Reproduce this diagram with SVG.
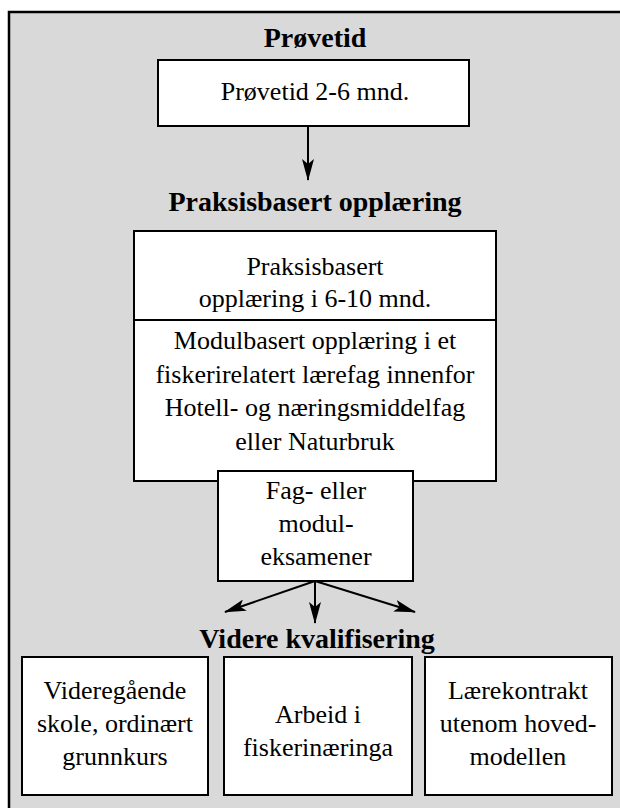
<svg xmlns="http://www.w3.org/2000/svg" width="620" height="808" viewBox="0 0 620 808">
<style>
  .frame { fill: #d9d9d9; stroke: #000; stroke-width: 2.5; }
  .box { fill: #fff; stroke: #000; stroke-width: 2; }
  .t { font-family: "Liberation Serif", "Times New Roman", serif; font-size: 26px; fill: #000; text-anchor: middle; }
  .h { font-family: "Liberation Serif", "Times New Roman", serif; font-size: 28px; font-weight: bold; fill: #000; text-anchor: middle; }
  .conn { stroke: #000; stroke-width: 2; fill: none; }
</style>
<defs>
  <marker id="ah" markerUnits="userSpaceOnUse" markerWidth="22" markerHeight="12" refX="21" refY="6" orient="auto">
    <path d="M0,0 L22,6 L0,12 L5,6 z" fill="#000"/>
  </marker>
</defs>
<rect class="frame" x="9" y="12" width="620" height="810"/>

<g id="title-provetid"><text class="h" x="315" y="47">Prøvetid</text></g>
<g id="node-provetid">
  <rect class="box" x="158" y="60" width="311" height="66"/>
  <text class="t" x="315" y="100">Prøvetid 2-6 mnd.</text>
</g>

<g id="title-praksis"><text class="h" x="315" y="211">Praksisbasert opplæring</text></g>
<g id="node-praksis">
  <rect class="box" x="134" y="231" width="362" height="250"/>
  <line x1="134" y1="320" x2="496" y2="320" stroke="#000" stroke-width="2"/>
  <text class="t" x="315" y="275">Praksisbasert</text>
  <text class="t" x="315" y="307">opplæring i 6-10 mnd.</text>
  <text class="t" x="315" y="349">Modulbasert opplæring i et</text>
  <text class="t" x="315" y="383">fiskerirelatert lærefag innenfor</text>
  <text class="t" x="315" y="416">Hotell- og næringsmiddelfag</text>
  <text class="t" x="315" y="450">eller Naturbruk</text>
</g>
<g id="node-fag">
  <rect class="box" x="218" y="471" width="195" height="110"/>
  <text class="t" x="316" y="499">Fag- eller</text>
  <text class="t" x="316" y="532">modul-</text>
  <text class="t" x="316" y="565">eksamener</text>
</g>

<g id="title-videre"><text class="h" x="317" y="648">Videre kvalifisering</text></g>
<g id="node-vgs">
  <rect class="box" x="22" y="657" width="186" height="138"/>
  <text class="t" x="115" y="699">Videregående</text>
  <text class="t" x="115" y="732">skole, ordinært</text>
  <text class="t" x="115" y="765">grunnkurs</text>
</g>
<g id="node-arbeid">
  <rect class="box" x="224" y="657" width="188" height="138"/>
  <text class="t" x="318" y="723">Arbeid i</text>
  <text class="t" x="318" y="756">fiskerinæringa</text>
</g>
<g id="node-laere">
  <rect class="box" x="425" y="657" width="187" height="138"/>
  <text class="t" x="518" y="699">Lærekontrakt</text>
  <text class="t" x="518" y="732">utenom hoved-</text>
  <text class="t" x="518" y="765">modellen</text>
</g>

<g id="connectors">
  <line class="conn" x1="308" y1="127" x2="308" y2="180" marker-end="url(#ah)"/>
  <line class="conn" x1="315" y1="581" x2="225" y2="612" marker-end="url(#ah)"/>
  <line class="conn" x1="315" y1="581" x2="315" y2="623" marker-end="url(#ah)"/>
  <line class="conn" x1="315" y1="581" x2="415" y2="612" marker-end="url(#ah)"/>
</g>
</svg>
